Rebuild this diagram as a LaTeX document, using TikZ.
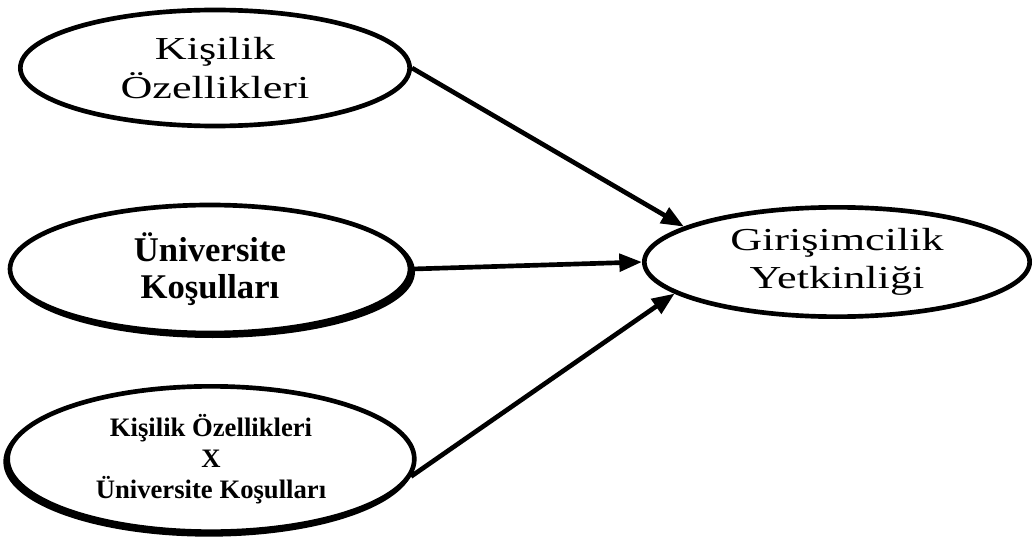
\documentclass[tikz,border=0pt]{standalone}
\usepackage{fontspec}
\setmainfont{Liberation Serif}
\newfontfamily\widefont{Liberation Serif}[FakeStretch=1.38]
\usetikzlibrary{arrows.meta,shapes.geometric,shadows}

\tikzset{
	oval/.style={ellipse, draw, fill=white, line width=3.5pt, inner sep=0pt, align=center},
	ovalshadow/.style={copy shadow={shadow xshift=#1, shadow yshift=-2pt, line width=3.5pt}},
	>={Triangle[length=17pt,width=13pt]}
}

\begin{document}
\begin{tikzpicture}[x=0.75pt, y=-0.75pt]
	\useasboundingbox (0,0) rectangle (1036,542);
	\node (kisilik) [oval, minimum width=292pt, minimum height=87pt, font=\widefont\fontsize{24}{29}\selectfont] at (215,68) {Kişilik\\Özellikleri};
	\node (kosul) [oval, ovalshadow=2pt, minimum width=300pt, minimum height=96pt, font=\bfseries\fontsize{26}{28}\selectfont] at (210,269) {Üniversite\\Koşulları};
	\node (etkilesim) [oval, ovalshadow=-1.5pt, minimum width=305pt, minimum height=109pt, font=\bfseries\fontsize{20}{23}\selectfont] at (211,459) {Kişilik Özellikleri\\X\\Üniversite Koşulları};
	\node (girisim) [oval, minimum width=289pt, minimum height=82pt, font=\widefont\fontsize{24}{29}\selectfont] at (837,262) {Girişimcilik\\Yetkinliği};
	\path[->, line width=3.5pt]
	(kisilik.east) edge (girisim.167)
	(kosul.east) edge (girisim.west)
	(etkilesim.-5) edge (girisim.191)
	;
\end{tikzpicture}
\end{document}
